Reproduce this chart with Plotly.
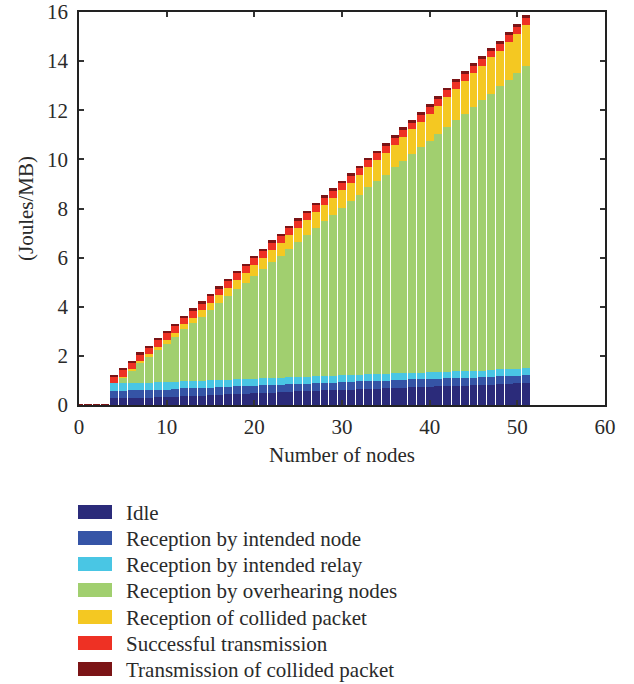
import plotly.graph_objects as go

# ---- data ----
nodes = list(range(0, 52))
series_names = [
    "Idle",
    "Reception by intended node",
    "Reception by intended relay",
    "Reception by overhearing nodes",
    "Reception of collided packet",
    "Successful transmission",
    "Transmission of collided packet",
]
colors = ["#2b2b7a", "#3554a6", "#49c6e4", "#a1cf6f", "#f4c822", "#ee3124", "#7b1416"]

zeros4 = [0, 0, 0, 0]
idle = zeros4 + [0.27, 0.28, 0.29, 0.30, 0.30, 0.32, 0.33, 0.34, 0.36, 0.37,
                 0.38, 0.40, 0.41, 0.43, 0.44, 0.46, 0.47, 0.49, 0.50, 0.51,
                 0.53, 0.55, 0.56, 0.58, 0.60, 0.60, 0.62, 0.63, 0.65, 0.66,
                 0.67, 0.68, 0.70, 0.71, 0.72, 0.73, 0.74, 0.76, 0.77, 0.78,
                 0.79, 0.80, 0.82, 0.83, 0.85, 0.87, 0.88, 0.90]
rx_node = zeros4 + [0.31, 0.30, 0.31, 0.31, 0.30, 0.31, 0.30, 0.31, 0.32, 0.31,
                    0.31, 0.30, 0.31, 0.31, 0.32, 0.30, 0.31, 0.31, 0.32, 0.31,
                    0.31, 0.30, 0.31, 0.32, 0.31, 0.31, 0.30, 0.31, 0.31, 0.32,
                    0.31, 0.30, 0.31, 0.31, 0.32, 0.31, 0.31, 0.30, 0.31, 0.32,
                    0.31, 0.31, 0.30, 0.31, 0.32, 0.31, 0.31, 0.31]
rx_relay = zeros4 + [0.30, 0.30, 0.29, 0.30, 0.29, 0.30, 0.29, 0.29, 0.30, 0.29,
                     0.29, 0.30, 0.29, 0.29, 0.28, 0.29, 0.29, 0.28, 0.29, 0.28,
                     0.29, 0.28, 0.28, 0.29, 0.28, 0.28, 0.29, 0.28, 0.28, 0.29,
                     0.28, 0.28, 0.28, 0.29, 0.28, 0.28, 0.28, 0.29, 0.28, 0.28,
                     0.28, 0.29, 0.28, 0.28, 0.28, 0.28, 0.28, 0.28]
rx_overhear = zeros4 + [0.00, 0.25, 0.52, 0.78, 1.05, 1.30, 1.57, 1.83, 2.10, 2.36,
                        2.62, 2.88, 3.15, 3.40, 3.67, 3.93, 4.19, 4.45, 4.72, 4.98,
                        5.24, 5.50, 5.76, 6.02, 6.29, 6.55, 6.81, 7.07, 7.33, 7.60,
                        7.86, 8.12, 8.38, 8.64, 8.90, 9.17, 9.43, 9.69, 9.95, 10.21,
                        10.47, 10.74, 11.00, 11.26, 11.52, 11.79, 12.05, 12.31]
rx_collided = zeros4 + [0.00, 0.03, 0.06, 0.09, 0.12, 0.14, 0.16, 0.18, 0.20, 0.23,
                        0.26, 0.28, 0.31, 0.34, 0.37, 0.40, 0.43, 0.46, 0.49, 0.52,
                        0.55, 0.58, 0.61, 0.64, 0.67, 0.70, 0.72, 0.75, 0.78, 0.81,
                        0.84, 0.88, 0.92, 0.96, 1.00, 1.05, 1.10, 1.15, 1.22, 1.27,
                        1.35, 1.38, 1.41, 1.47, 1.46, 1.53, 1.58, 1.66]
tx_success = zeros4 + [0.27, 0.28, 0.28, 0.29, 0.28, 0.28, 0.29, 0.28, 0.28, 0.29,
                       0.28, 0.28, 0.29, 0.28, 0.28, 0.29, 0.28, 0.28, 0.29, 0.28,
                       0.28, 0.29, 0.28, 0.28, 0.29, 0.28, 0.28, 0.29, 0.28, 0.28,
                       0.29, 0.28, 0.28, 0.29, 0.28, 0.28, 0.29, 0.28, 0.28, 0.29,
                       0.28, 0.28, 0.29, 0.28, 0.28, 0.28, 0.28, 0.28]
tx_collided = [0.03, 0.03, 0.03, 0.03] + [0.06, 0.06, 0.06, 0.07, 0.07, 0.07, 0.07, 0.07, 0.08, 0.08,
                                          0.08, 0.08, 0.08, 0.08, 0.09, 0.09, 0.09, 0.09, 0.09, 0.09,
                                          0.09, 0.10, 0.10, 0.10, 0.10, 0.10, 0.10, 0.10, 0.10, 0.10,
                                          0.11, 0.11, 0.11, 0.11, 0.11, 0.11, 0.11, 0.11, 0.11, 0.11,
                                          0.12, 0.12, 0.12, 0.12, 0.12, 0.12, 0.12, 0.12]

series_values = [idle, rx_node, rx_relay, rx_overhear, rx_collided, tx_success, tx_collided]

x_ticks = [0, 10, 20, 30, 40, 50, 60]
y_ticks = [0, 2, 4, 6, 8, 10, 12, 14, 16]

FONT = "Liberation Serif, Times New Roman, serif"
TXT = "#2a2a2a"
FS = 21

fig = go.Figure()
for name, vals, col in zip(series_names, series_values, colors):
    fig.add_trace(go.Bar(x=nodes, y=vals, name=name, marker=dict(color=col, line=dict(width=0)),
                         showlegend=False))

# page pixel layout (body margin removed via post_script)
W, H = 634, 684
L, R, T, B = 79, 605, 12, 405
pw, ph = R - L, B - T

def px_x(px):
    return (px - L) / pw

def px_y(py):
    return (B - py) / ph

# manual legend
row_y = [512, 538, 564, 590, 617, 643, 669]
shapes = []
annotations = []
for name, col, yc in zip(series_names, colors, row_y):
    shapes.append(dict(type="rect", xref="paper", yref="paper",
                       x0=px_x(78), x1=px_x(112), y0=px_y(yc + 7), y1=px_y(yc - 7),
                       fillcolor=col, line=dict(width=0)))
    annotations.append(dict(xref="paper", yref="paper", x=px_x(124), y=px_y(yc + 1),
                            text=name, showarrow=False, xanchor="left", yanchor="middle",
                            font=dict(family=FONT, size=FS, color=TXT)))

axis_common = dict(showline=True, linecolor="#222", linewidth=1.5, mirror="ticks",
                   ticks="inside", ticklen=5, tickwidth=1.5, tickcolor="#333",
                   showgrid=False, zeroline=False, automargin=False,
                   ticklabeloverflow="allow",
                   tickfont=dict(family=FONT, size=FS, color=TXT))

fig.update_layout(
    width=W, height=H,
    margin=dict(l=L, r=W - R, t=T, b=H - B, autoexpand=False),
    paper_bgcolor="white", plot_bgcolor="white",
    barmode="stack", bargap=0.1,
    xaxis=dict(range=[0, 60], tickvals=x_ticks, ticklabelstandoff=2,
               title=dict(text="Number of nodes", font=dict(family=FONT, size=FS, color=TXT),
                          standoff=9),
               **axis_common),
    yaxis=dict(range=[0, 16], tickvals=y_ticks, ticklabelstandoff=5,
               title=dict(text="(Joules/MB)", font=dict(family=FONT, size=FS, color=TXT),
                          standoff=8),
               **axis_common),
    shapes=shapes,
    annotations=annotations,
    showlegend=False,
    hovermode=False,
)

fig.write_html("out.html",
               config={"displayModeBar": False},
               post_script="document.body.style.margin='0';document.body.style.overflow='hidden';")
